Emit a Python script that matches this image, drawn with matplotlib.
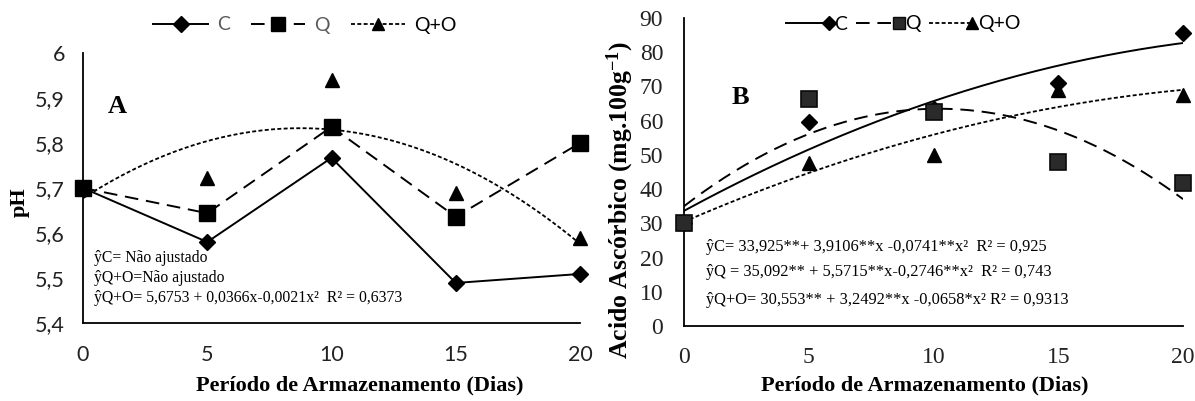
import numpy as np
import matplotlib
matplotlib.use("Agg")
import matplotlib.pyplot as plt
from matplotlib.lines import Line2D
from matplotlib.legend_handler import HandlerLine2DCompound

# ---------------- data ----------------
days = [0, 5, 10, 15, 20]

ph_C = [5.70, 5.58, 5.767, 5.489, 5.509]
ph_Q = [5.70, 5.644, 5.836, 5.636, 5.80]
ph_QO = [5.70, 5.722, 5.94, 5.689, 5.59]

aa_C = [30.0, 59.6, 63.5, 71.0, 85.6]
aa_Q = [30.0, 66.4, 62.6, 48.0, 41.8]
aa_QO = [30.0, 47.6, 50.0, 69.0, 67.5]

ph_ticks = [5.4, 5.5, 5.6, 5.7, 5.8, 5.9, 6.0]
ph_ticklabels = ["5,4", "5,5", "5,6", "5,7", "5,8", "5,9", "6"]
aa_ticks = [0, 10, 20, 30, 40, 50, 60, 70, 80, 90]
day_ticks = [0, 5, 10, 15, 20]

series_names = ["C", "Q", "Q+O"]

eqA = ["ŷC= Não ajustado",
       "ŷQ+O=Não ajustado",
       "ŷQ+O= 5,6753 + 0,0366x-0,0021x²  R² = 0,6373"]
eqB = ["ŷC= 33,925**+ 3,9106**x -0,0741**x²  R² = 0,925",
       "ŷQ = 35,092** + 5,5715**x-0,2746**x²  R² = 0,743",
       "ŷQ+O= 30,553** + 3,2492**x -0,0658*x² R² = 0,9313"]

xlabel = "Período de Armazenamento (Dias)"

# ---------------- figure ----------------
W, H = 1195, 401
plt.rcParams["mathtext.fontset"] = "custom"
plt.rcParams["mathtext.rm"] = "Liberation Serif"
plt.rcParams["mathtext.bf"] = "Liberation Serif:bold"
fig = plt.figure(figsize=(W / 100, H / 100), dpi=100)

SERIF = "Liberation Serif"
SANS = "Lato"


def px_axes(x0, x1, ytop, ybot):
    return fig.add_axes([x0 / W, 1 - ybot / H, (x1 - x0) / W, (ybot - ytop) / H])


def ftext(x, y, s, **kw):
    fig.text(x / W, 1 - y / H, s, **kw)


def style_axes(ax):
    for side in ("top", "right"):
        ax.spines[side].set_visible(False)
    for side in ("left", "bottom"):
        ax.spines[side].set_linewidth(1.3)
        ax.spines[side].set_color("black")
    ax.patch.set_visible(False)


dash_long = (0, (7, 4))
dot_short = (0, (2.2, 1.3))

# ---------------- panel A ----------------
axA = px_axes(83, 580, 53, 323)
style_axes(axA)
axA.set_xlim(0, 20)
axA.set_ylim(5.4, 6.0)
axA.set_xticks(day_ticks)
axA.set_yticks(ph_ticks)
axA.set_yticklabels(ph_ticklabels)
axA.tick_params(axis="both", length=0)
axA.tick_params(axis="y", pad=13)
axA.tick_params(axis="x", pad=16)
for lab in axA.get_xticklabels() + axA.get_yticklabels():
    lab.set_fontfamily(SANS)
    lab.set_fontsize(15.5)
    lab.set_color("#222222")

axA.plot(days, ph_C, linestyle="-", color="black", lw=1.4, marker="D", ms=8.5,
         mfc="black", mec="black", clip_on=False, zorder=4)
axA.plot(days, ph_Q, linestyle=dash_long, color="black", lw=1.4, marker="s", ms=11,
         mfc="black", mec="black", clip_on=False, zorder=5)
axA.plot(days, ph_QO, linestyle="none", marker="^", ms=10, mfc="black", mec="black",
         clip_on=False, zorder=3)
cA = np.polyfit(days, ph_QO, 2)
xx = np.linspace(0, 20, 200)
axA.plot(xx, np.polyval(cA, xx), linestyle=dot_short, color="black", lw=1.3, zorder=2)

hA = [Line2D([], [], color="black", lw=1.4, marker="D", ms=8),
      Line2D([], [], color="black", lw=1.4, linestyle=dash_long, marker="s", ms=10),
      Line2D([], [], color="black", lw=1.3, linestyle=dot_short, marker="^", ms=9)]
legA = fig.legend(hA, series_names, loc="center", bbox_to_anchor=(305 / W, 1 - 25 / H),
                  ncol=3, frameon=False, handlelength=2.8, handletextpad=0.45,
                  columnspacing=1.1, prop={"family": SANS, "size": 14}, numpoints=1,
                  borderpad=0)
legA.get_texts()[0].set_color("#595959")
legA.get_texts()[1].set_color("#595959")

ftext(117, 107, "A", family=SERIF, weight="bold", fontsize=19, ha="center", va="center")
for i, s in enumerate(eqA):
    ftext(94, 258 + 20 * i, s, family=SERIF, fontsize=11.3, ha="left", va="center")
ftext(20, 202, "pH", family=SERIF, weight="bold", fontsize=16, rotation=90,
      ha="center", va="center")
ftext(360, 385, xlabel, family=SERIF, weight="bold", fontsize=16, ha="center", va="center")

# ---------------- panel B ----------------
axB = px_axes(684, 1183, 18, 326)
style_axes(axB)
axB.set_xlim(0, 20)
axB.set_ylim(0, 90)
axB.set_xticks(day_ticks)
axB.set_yticks(aa_ticks)
axB.tick_params(axis="both", length=0)
axB.tick_params(axis="y", pad=15)
axB.tick_params(axis="x", pad=15)
for lab in axB.get_xticklabels() + axB.get_yticklabels():
    lab.set_fontfamily(SERIF)
    lab.set_fontsize(17)
    lab.set_color("#222222")

axB.plot(days, aa_C, linestyle="none", marker="D", ms=8.5, mfc="black", mec="black",
         clip_on=False, zorder=4)
axB.plot(days, aa_Q, linestyle="none", marker="s", ms=11, mfc="#2a2a2a", mec="#0a0a0a",
         mew=1.2, clip_on=False, zorder=5)
axB.plot(days, aa_QO, linestyle="none", marker="^", ms=10, mfc="black", mec="black",
         clip_on=False, zorder=3)
cC = np.polyfit(days, aa_C, 2)
cQ = np.polyfit(days, aa_Q, 2)
cQO = np.polyfit(days, aa_QO, 2)
axB.plot(xx, np.polyval(cC, xx), linestyle="-", color="black", lw=1.4, zorder=2)
axB.plot(xx, np.polyval(cQ, xx), linestyle=dash_long, color="black", lw=1.4, zorder=2)
axB.plot(xx, np.polyval(cQO, xx), linestyle=dot_short, color="black", lw=1.3, zorder=2)


class EndMarkerHandler(HandlerLine2DCompound):
    def create_artists(self, legend, orig_handle, xdescent, ydescent, width, height,
                       fontsize, trans):
        arts = super().create_artists(legend, orig_handle, xdescent, ydescent, width,
                                      height, fontsize, trans)
        line, marker = arts[0], arts[-1]
        xd = line.get_xdata()
        yd = marker.get_ydata()
        marker.set_data([xd[-1]], [yd[0]])
        return arts


hB = [Line2D([], [], color="black", lw=1.4, marker="D", ms=7),
      Line2D([], [], color="black", lw=1.4, linestyle=dash_long, marker="s", ms=9,
             mfc="#2a2a2a", mec="#0a0a0a"),
      Line2D([], [], color="black", lw=1.3, linestyle=dot_short, marker="^", ms=8)]
legB = fig.legend(hB, series_names, loc="center", bbox_to_anchor=(903 / W, 1 - 24 / H),
                  ncol=3, frameon=False, handlelength=2.2, handletextpad=0.3,
                  columnspacing=0.45, prop={"family": SANS, "size": 14}, numpoints=1,
                  borderpad=0, handler_map={Line2D: EndMarkerHandler()})

ftext(740, 97, "B", family=SERIF, weight="bold", fontsize=19, ha="center", va="center")
for y, s in zip([247, 272, 300], eqB):
    ftext(706, y, s, family=SERIF, fontsize=11.8, ha="left", va="center")
ftext(620, 200, r"Acido Ascórbico (mg.100g$\mathbf{^{-1}}$)", family=SERIF,
      weight="bold", fontsize=18.5, rotation=90, ha="center", va="center")
ftext(925, 385, xlabel, family=SERIF, weight="bold", fontsize=16, ha="center",
      va="center")

fig.savefig("out.png", dpi=100)
